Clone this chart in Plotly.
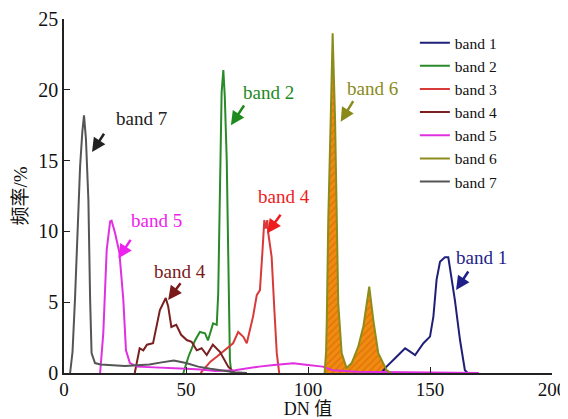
import plotly.graph_objects as go

# ---- data ----
band1_x = [130, 132.2, 136, 139.8, 141.1, 143.9, 147.3, 150, 151.4, 152.7, 154.1, 156.1, 157.5, 158.9, 160.2, 162.3, 164.3, 165.5]
band1_y = [0, 0.45, 1.1, 1.74, 1.6, 1.27, 2.1, 2.57, 4.0, 6.6, 7.86, 8.17, 8.17, 6.6, 5.15, 2.33, 0.2, 0]

band2_x = [48.9, 51, 53.7, 55.7, 57.8, 59, 61.1, 62.6, 63.2, 63.9, 64.6, 65.3, 65.9, 66.7, 67.3, 68, 68.6]
band2_y = [0, 1.15, 2.3, 2.9, 2.8, 2.3, 3.5, 3.4, 5.6, 12.7, 19.8, 21.4, 19.5, 15, 8, 0.9, 0]

band3_x = [56, 57.8, 60, 62.6, 66.7, 69.3, 71.4, 73.5, 74.9, 77.5, 79, 80.3, 81.3, 82.1, 82.7, 83.3, 83.7, 85.1, 86.2, 87.2, 88.2]
band3_y = [0, 0.35, 0.8, 1.15, 1.75, 2.1, 2.9, 2.55, 2.1, 4.0, 5.5, 5.85, 8.5, 10.8, 10.2, 10.8, 9.9, 8.2, 4.5, 1.4, 0]

band4_x = [29, 31, 32.5, 34, 36.5, 39.3, 41.7, 42.7, 44, 46, 48, 50.3, 52.3, 54.4, 56.4, 58.5, 61, 63.9, 67.3, 70]
band4_y = [0, 1.75, 1.6, 2.0, 2.1, 4.45, 5.3, 4.7, 3.25, 3.4, 2.7, 2.33, 2.2, 1.6, 1.75, 1.27, 2.0, 1.5, 0.45, 0]

band5_x = [14.8, 16.1, 17.5, 18.9, 19.5, 20.9, 22.7, 24.3, 25.4, 27, 30, 40, 50, 56, 62, 70, 75, 80, 86, 94, 100, 106, 110, 120, 140, 165, 170]
band5_y = [0, 2.8, 8.7, 10.7, 10.75, 9.9, 8.5, 5.2, 1.6, 0.7, 0.45, 0.35, 0.3, 0.25, 0.15, 0.2, 0.33, 0.45, 0.56, 0.68, 0.56, 0.45, 0.2, 0.08, 0.05, 0.03, 0]

band6_x = [106.8, 107.4, 107.7, 108.3, 109.3, 110.1, 111.1, 111.8, 112.4, 113.8, 115.8, 117.9, 120.6, 122.7, 125.1, 126.8, 128.8, 132.2, 134]
band6_y = [0, 1.5, 3.7, 10.8, 17.9, 24.0, 17.9, 10.8, 4.9, 1.4, 0.35, 0.7, 1.86, 3.3, 6.1, 3.7, 1.4, 0.2, 0]

band7_x = [2.5, 3.5, 4.5, 5.5, 6.6, 7.5, 8.2, 9, 10, 10.7, 11.3, 12.7, 15, 20, 25, 30, 35, 40, 45, 50, 55, 60, 65, 70, 75]
band7_y = [0, 1.5, 5.2, 9.5, 14.6, 17, 18.2, 16.5, 12.2, 5.2, 1.4, 0.7, 0.6, 0.55, 0.5, 0.55, 0.6, 0.75, 0.88, 0.7, 0.45, 0.3, 0.15, 0.05, 0]

names = ["band 1", "band 2", "band 3", "band 4", "band 5", "band 6", "band 7"]
xs = [band1_x, band2_x, band3_x, band4_x, band5_x, band6_x, band7_x]
ys = [band1_y, band2_y, band3_y, band4_y, band5_y, band6_y, band7_y]
colors = ["#1f1f7a", "#2a8a2a", "#d83a3a", "#7a2020", "#e030e0", "#8c8c1c", "#555555"]

x_ticks = [0, 50, 100, 150, 200]
y_ticks = [0, 5, 10, 15, 20, 25]

# callout labels: (text, colour, text x, text y, arrow tail x, tail y, head x, head y)
callouts = [
    ("band 7", "#222222", 31.8, 18.0, 16.8, 17.0, 11.5, 15.6),
    ("band 2", "#1e8a1e", 84.0, 19.84, 74.2, 19.0, 68.4, 17.5),
    ("band 6", "#8a8a1a", 126.6, 20.06, 118.9, 19.3, 113.4, 17.75),
    ("band 4", "#ee1c1c", 90.2, 12.43, 89.2, 11.28, 83.3, 9.87),
    ("band 5", "#ee22ee", 38.1, 10.8, 27.7, 9.51, 22.3, 8.1),
    ("band 4", "#7a1a1a", 47.5, 7.17, 48.2, 6.45, 42.7, 5.16),
    ("band 1", "#1f1f8a", 170.9, 8.19, 166.1, 7.27, 160.7, 5.86),
]

SERIF = "Liberation Serif, Times New Roman, Noto Sans CJK SC, serif"

fig = go.Figure()
# orange hatched area under band 6 (drawn first, no legend entry)
fig.add_trace(go.Scatter(x=band6_x, y=band6_y, mode="none", fill="tozeroy",
                         fillcolor="#f08a10", showlegend=False, hoverinfo="skip",
                         fillpattern=dict(shape="/", fgcolor="#c85a00", bgcolor="#f08a10",
                                          size=5, solidity=0.25)))
for n, x, y, c in zip(names, xs, ys, colors):
    fig.add_trace(go.Scatter(x=x, y=y, name=n, mode="lines",
                             line=dict(color=c, width=2)))

for (t, c, tx, ty, ax, ay, hx, hy) in callouts:
    fig.add_annotation(x=tx, y=ty, text=t, showarrow=False,
                       font=dict(family=SERIF, size=19, color=c))
    fig.add_annotation(x=hx, y=hy, ax=ax, ay=ay, axref="x", ayref="y", text="",
                       showarrow=True, arrowhead=2, arrowsize=1.1, arrowwidth=2.5,
                       arrowcolor=c, standoff=0, startstandoff=0)

# the page body has an 8px margin, so the figure is sized to end exactly at 568x419
fig.update_layout(
    width=560, height=411,
    margin=dict(l=56, r=16, t=11, b=46),
    paper_bgcolor="white", plot_bgcolor="white",
    font=dict(family=SERIF, size=19, color="#111111"),
    showlegend=True,
    legend=dict(x=0.719, y=0.98, xanchor="left", yanchor="top",
                font=dict(family=SERIF, size=15.5, color="#111111"),
                bgcolor="rgba(0,0,0,0)", borderwidth=0, tracegroupgap=0),
)
fig.update_xaxes(range=[0, 200], tickvals=x_ticks, ticks="inside", ticklen=6,
                 showline=True, linecolor="#222222", linewidth=1.5, tickcolor="#222222",
                 showgrid=False, zeroline=False, automargin=False, ticklabelstandoff=-2,
                 title=dict(text="DN 值", font=dict(family=SERIF, size=18), standoff=12),
                 tickfont=dict(family=SERIF, size=19))
fig.update_yaxes(range=[0, 25], tickvals=y_ticks, ticks="inside", ticklen=6,
                 showline=True, linecolor="#222222", linewidth=1.5, tickcolor="#222222",
                 showgrid=False, zeroline=False, automargin=False,
                 title=dict(text="频率/%", font=dict(family=SERIF, size=19), standoff=6),
                 tickfont=dict(family=SERIF, size=20))

fig.write_html("out.html")
